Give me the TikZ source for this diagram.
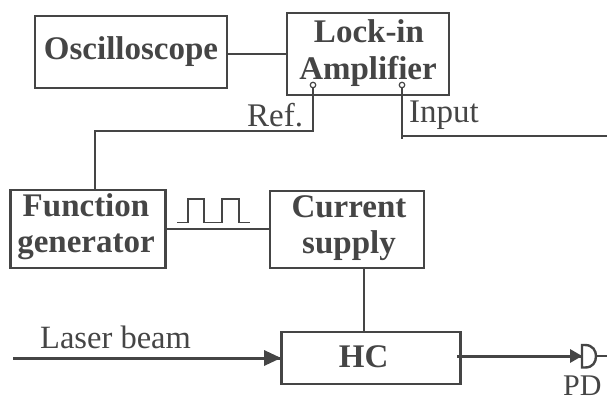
\documentclass[tikz,border=0pt]{standalone}
\usepackage{fontspec}
\setmainfont{Liberation Serif}
\definecolor{ink}{HTML}{454545}
\tikzset{
  box/.style={draw=ink,line width=2.8pt,inner sep=0pt,outer sep=0pt,anchor=north west},
  btext/.style={text=ink,font=\fontsize{33}{36}\selectfont\bfseries,inner sep=0pt,anchor=base},
  wire/.style={draw=ink,line width=2.6pt},
  beam/.style={draw=ink,line width=3pt},
  lab/.style={text=ink,inner sep=0pt,font=\fontsize{33}{34}\selectfont,anchor=base west},
  port/.style={circle,draw=ink,fill=white,line width=1.2pt,minimum size=5.5pt,inner sep=0pt},
  tip/.style={fill=ink,draw=none}
}
\begin{document}
\begin{tikzpicture}[x=1pt,y=-1pt]
\useasboundingbox (0,0) rectangle (607,401);
\node[box,minimum width=192pt,minimum height=72pt] (osc) at (35,16) {};
\node[btext] at (131,60) {Oscilloscope};
\node[box,minimum width=162pt,minimum height=82pt] (lock) at (287,13) {};
\node[btext] at (369,43) {Lock-in};
\node[btext] at (368,80) {Amplifier};
\node[box,minimum width=155pt,minimum height=78pt] (fg) at (10.5,190) {};
\node[btext] at (86,216) {Function};
\node[btext] at (86,252) {generator};
\node[box,minimum width=154pt,minimum height=77pt] (cs) at (270,191) {};
\node[btext] at (349,217) {Current};
\node[btext] at (349,253) {supply};
\node[box,minimum width=179pt,minimum height=52pt] (hc) at (281.7,332) {};
\node[btext] at (363.6,367) {HC};

\node[port] (pr) at (313,85) {};
\node[port] (pi) at (402,85) {};
\coordinate (rc) at (313,131);
\coordinate (rl) at (95,131);
\coordinate (ic) at (402,136);
\coordinate (ie) at (402,138.5);
\coordinate (ir) at (607,136);
\coordinate (ls) at (13,358);
\coordinate (hcs) at (457,356);
\coordinate (pdl) at (582,356);
\coordinate (pdr) at (596,356);
\coordinate (pde) at (607,356);

\draw[wire] (osc.east|-0,54) -- (lock.west|-0,54);
\draw[wire] (pr) -- (rc) -- (rl) -- (rl|-fg.north);
\draw[wire] (pi) -- (ie);
\draw[wire] (ic) -- (ir);
\draw[wire] (fg.east|-0,229) -- (cs.west|-0,229);
\draw[wire] (cs.south-|364,0) -- (hc.north-|364,0);
\draw[beam] (ls) -- (hc.west|-ls);
\fill[tip] (281,358) -- (264,350) -- (264,366) -- cycle;
\draw[beam] (hcs) -- (pdl);
\fill[tip] (582,356) -- (570,349) -- (570,363) -- cycle;
\draw[draw=ink,line width=2.4pt,fill=white] (582,345) -- (585,345) .. controls (593,345) and (596,351) .. (596,356) .. controls (596,362) and (593,367.5) .. (585,367.5) -- (582,367.5) -- cycle;
\draw[wire] (pdr) -- (pde);
\draw[draw=ink,line width=1.3pt] (177,222.7) -- (188,222.7) -- (188,199) -- (204,199) -- (204,222.7) -- (222,222.7) -- (222,199) -- (239,199) -- (239,222.7) -- (250,222.7);
\node[lab] at (247,126) {Ref.};
\node[lab] at (409,122) {Input};
\node[lab,font=\fontsize{32.5}{34}\selectfont] at (40,348) {Laser beam};
\node[lab,font=\fontsize{30}{34}\selectfont] at (563,395) {PD};
\end{tikzpicture}
\end{document}
